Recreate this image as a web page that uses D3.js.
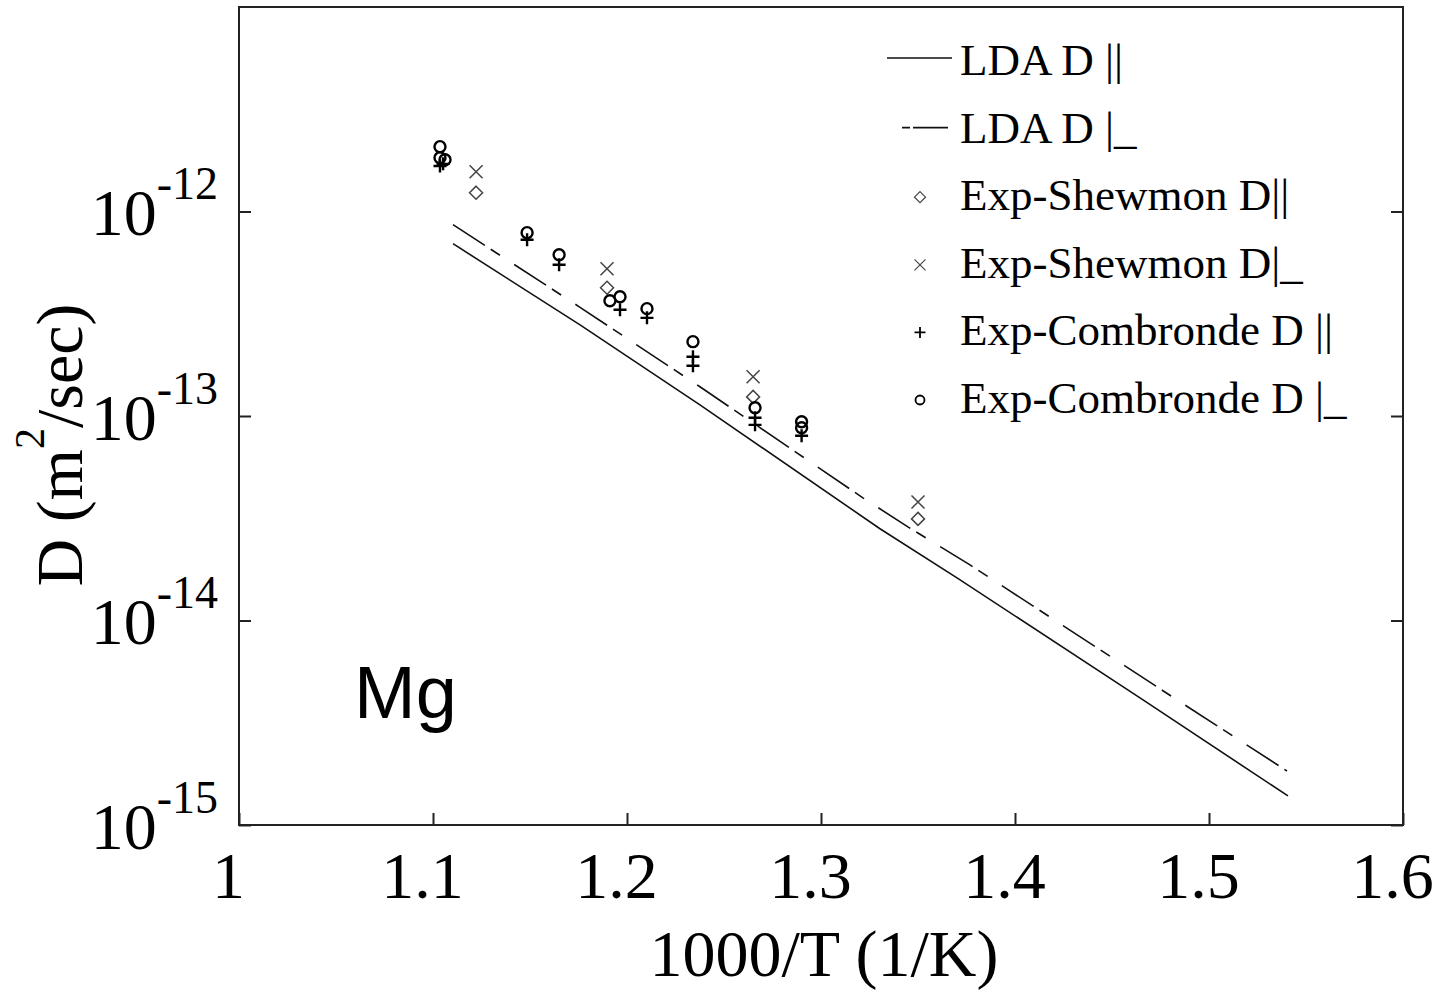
<!DOCTYPE html>
<html>
<head>
<meta charset="utf-8">
<script src="https://cdn.jsdelivr.net/npm/d3@7"></script>
<style>
  html, body { margin: 0; padding: 0; background: #fff; }
  svg { display: block; }
  .serif { font-family: "Liberation Serif", "Times New Roman", serif; fill: #000; }
</style>
</head>
<body>
<div id="chart"></div>
<script>
// tick values
const xTicks = [1, 1.1, 1.2, 1.3, 1.4, 1.5, 1.6];
const yTickExp = [-12, -13, -14, -15];

// LDA D || (solid line)
const ldaParX = [1.1103, 1.1758, 1.2376, 1.3304, 1.3701, 1.4660, 1.5407];
const ldaParD = [6.96e-13, 2.79e-13, 1.134e-13, 2.81e-14, 1.616e-14, 4.09e-15, 1.387e-15];

// LDA D |_ (dashed line)
const ldaPerpX = [1.1103, 1.1758, 1.2376, 1.3216, 1.3448, 1.3768, 1.4835, 1.5402];
const ldaPerpD = [8.62e-13, 3.40e-13, 1.39e-13, 3.98e-14, 2.87e-14, 1.87e-14, 4.09e-15, 1.837e-15];

// Exp-Shewmon
const shewX = [1.1222, 1.1897, 1.2650, 1.3500];
const shewParD = [1.236e-12, 4.24e-13, 1.24e-13, 3.14e-14];
const shewPerpD = [1.565e-12, 5.25e-13, 1.555e-13, 3.80e-14];

// Exp-Combronde
const combParX = [1.1036, 1.1052, 1.1485, 1.1650, 1.1964, 1.2103, 1.2340, 1.2340, 1.2660, 1.2660, 1.2900];
const combParD = [1.67e-12, 1.71e-12, 7.28e-13, 5.49e-13, 3.31e-13, 3.02e-13, 1.95e-13, 1.76e-13, 9.80e-14, 9.05e-14, 8.0e-14];
const combPerpX = [1.1036, 1.1036, 1.1062, 1.1485, 1.1650, 1.1912, 1.1964, 1.2103, 1.2340, 1.2660, 1.2900, 1.2900];
const combPerpD = [2.075e-12, 1.833e-12, 1.792e-12, 7.88e-13, 6.15e-13, 3.66e-13, 3.83e-13, 3.35e-13, 2.31e-13, 1.097e-13, 9.37e-14, 8.76e-14];

const legendLabels = ["LDA D ||", "LDA D |_", "Exp-Shewmon D||", "Exp-Shewmon D|_", "Exp-Combronde D ||", "Exp-Combronde D |_"];

const width = 1445, height = 994;
const margin = { top: 7, right: 42, bottom: 169, left: 239 };

const svg = d3.select("#chart").append("svg")
  .attr("width", width)
  .attr("height", height);

const x = d3.scaleLinear().domain([1, 1.6]).range([margin.left, width - margin.right]);
const y = d3.scaleLog().domain([1e-15, 1e-11]).range([height - margin.bottom, margin.top]);

// marker shapes, h = half size
const marker = {
  diamond: h => `M0,${-h}L${h},0L0,${h}L${-h},0Z`,
  times: h => `M${-h},${-h}L${h},${h}M${-h},${h}L${h},${-h}`,
  plus: h => `M${-h},0L${h},0M0,${-h}L0,${h}`,
  circle: h => d3.arc()({ innerRadius: 0, outerRadius: h, startAngle: 0, endAngle: 2 * Math.PI })
};
const markerStyle = {
  diamond: { stroke: "#444", width: 1.5, size: 6.5 },
  times: { stroke: "#444", width: 1.5, size: 6.5 },
  plus: { stroke: "#000", width: 2.4, size: 6.5 },
  circle: { stroke: "#000", width: 2.4, size: 5.5 }
};

// axes, ticks pointing inward
const xAxis = d3.axisBottom(x).tickValues(xTicks).tickSize(-12).tickPadding(26).tickFormat(d3.format("~g"));
const gx = svg.append("g")
  .attr("transform", `translate(0,${height - margin.bottom})`)
  .call(xAxis);
gx.select(".domain").remove();
gx.selectAll("line").attr("stroke", "#222").attr("stroke-width", 2);
gx.selectAll("text")
  .attr("class", "serif")
  .attr("font-size", 66)
  .attr("dx", -11)
  .attr("fill", "#000");

const yAxis = d3.axisLeft(y).tickValues(yTickExp.map(e => Math.pow(10, e))).tickSize(-12).tickFormat("");
const gy = svg.append("g")
  .attr("transform", `translate(${margin.left},0)`)
  .call(yAxis);
gy.select(".domain").remove();
gy.selectAll("line").attr("stroke", "#222").attr("stroke-width", 2);
gy.selectAll(".tick").append("text")
  .attr("class", "serif")
  .attr("text-anchor", "end")
  .attr("x", -21)
  .attr("y", 23)
  .attr("font-size", 66)
  .each(function(d) {
    const t = d3.select(this);
    t.append("tspan").text("10");
    t.append("tspan").attr("font-size", 46).attr("dy", -36).text(Math.round(Math.log10(d)));
  });

const yAxisRight = d3.axisRight(y).tickValues(yTickExp.map(e => Math.pow(10, e))).tickSize(-12).tickFormat("");
const gyr = svg.append("g")
  .attr("transform", `translate(${width - margin.right},0)`)
  .call(yAxisRight);
gyr.select(".domain").remove();
gyr.selectAll("line").attr("stroke", "#222").attr("stroke-width", 2);

// frame
svg.append("rect")
  .attr("x", x(1)).attr("y", y(1e-11))
  .attr("width", x(1.6) - x(1)).attr("height", y(1e-15) - y(1e-11))
  .attr("fill", "none").attr("stroke", "#222").attr("stroke-width", 2);

// axis titles
svg.append("text")
  .attr("class", "serif")
  .attr("x", 824).attr("y", 976)
  .attr("text-anchor", "middle")
  .attr("font-size", 66)
  .text("1000/T (1/K)");

const yTitle = svg.append("text")
  .attr("class", "serif")
  .attr("transform", "translate(82,445) rotate(-90)")
  .attr("text-anchor", "middle")
  .attr("font-size", 66);
yTitle.append("tspan").text("D (m");
yTitle.append("tspan").attr("font-size", 42).attr("dy", -38).text("2");
yTitle.append("tspan").attr("dy", 38).text("/sec)");

// LDA lines
const line = d3.line().x(d => x(d[0])).y(d => y(d[1]));

svg.append("path")
  .datum(d3.zip(ldaParX, ldaParD))
  .attr("d", line)
  .attr("fill", "none")
  .attr("stroke", "#111")
  .attr("stroke-width", 1.6);

svg.append("path")
  .datum(d3.zip(ldaPerpX, ldaPerpD))
  .attr("d", line)
  .attr("fill", "none")
  .attr("stroke", "#111")
  .attr("stroke-width", 1.6)
  .attr("stroke-dasharray", "38,7,11,17");

// experimental points
function drawPoints(xs, ds, type) {
  const st = markerStyle[type];
  svg.append("g").selectAll("path")
    .data(d3.zip(xs, ds))
    .join("path")
    .attr("transform", d => `translate(${x(d[0])},${y(d[1])})`)
    .attr("d", marker[type](st.size))
    .attr("fill", "none")
    .attr("stroke", st.stroke)
    .attr("stroke-width", st.width);
}
drawPoints(shewX, shewParD, "diamond");
drawPoints(shewX, shewPerpD, "times");
drawPoints(combParX, combParD, "plus");
drawPoints(combPerpX, combPerpD, "circle");

// legend
const legendTypes = ["solid", "dashed", "diamond", "times", "plus", "circle"];
const legend = svg.append("g").attr("transform", "translate(960,75)");
legendTypes.forEach((type, i) => {
  const row = legend.append("g").attr("transform", `translate(0,${i * 67.6})`);
  row.append("text")
    .attr("class", "serif")
    .attr("font-size", 45)
    .text(legendLabels[i]);
  if (type === "solid") {
    row.append("line").attr("x1", -73).attr("x2", -8).attr("y1", -17).attr("y2", -17)
      .attr("stroke", "#111").attr("stroke-width", 1.6);
  } else if (type === "dashed") {
    row.append("line").attr("x1", -58).attr("x2", -12).attr("y1", -15).attr("y2", -15)
      .attr("stroke", "#111").attr("stroke-width", 1.6).attr("stroke-dasharray", "8,3,35");
  } else {
    const st = markerStyle[type];
    row.append("path")
      .attr("transform", "translate(-40,-13)")
      .attr("d", marker[type](type === "circle" ? 4.5 : 5.5))
      .attr("fill", "none")
      .attr("stroke", st.stroke)
      .attr("stroke-width", type === "circle" || type === "plus" ? 1.8 : 1.2);
  }
});

// element label
svg.append("text")
  .attr("x", 354).attr("y", 718)
  .attr("font-family", "'Liberation Sans', Arial, sans-serif")
  .attr("font-size", 74)
  .attr("fill", "#000")
  .text("Mg");
</script>
</body>
</html>
